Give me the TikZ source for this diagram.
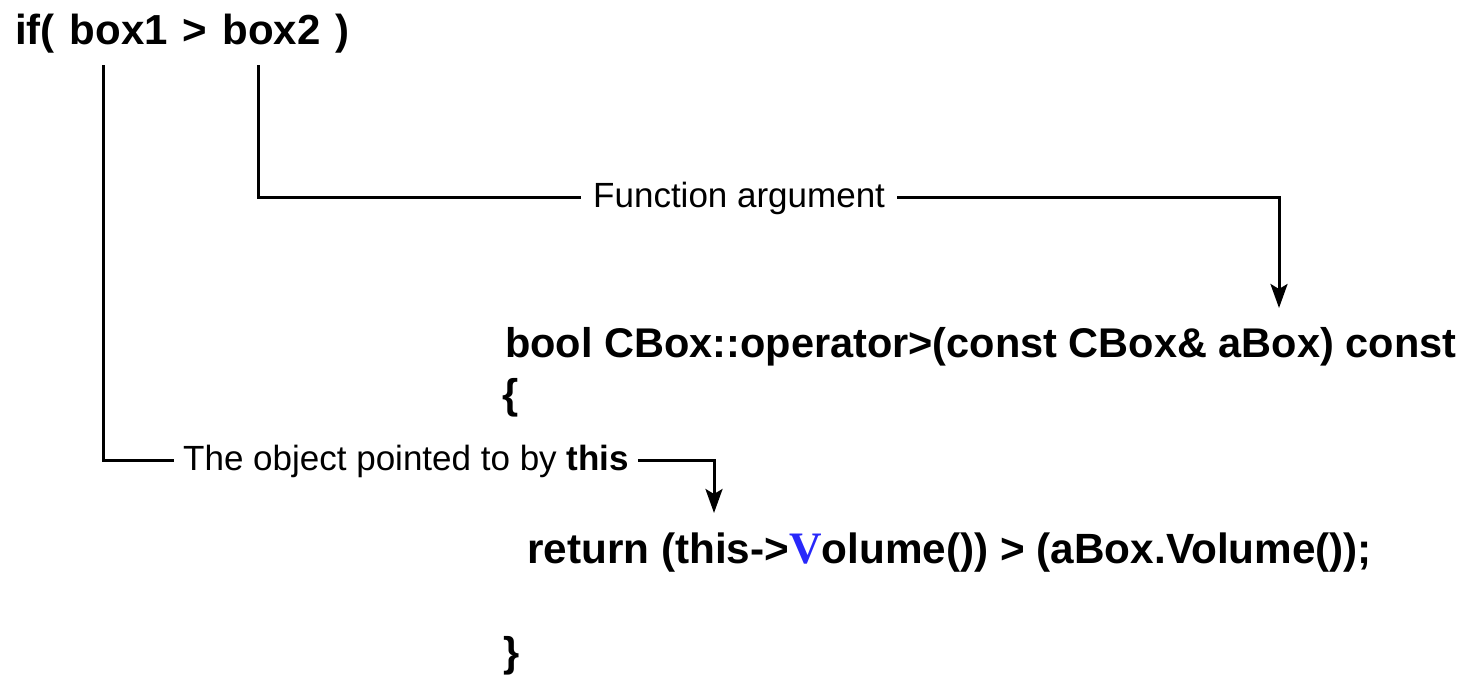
\documentclass[tikz,border=0pt]{standalone}
\usepackage{fontspec}
\setmainfont{Liberation Sans}
\newfontfamily\serifV{Liberation Serif}
\usetikzlibrary{arrows.meta}
\definecolor{vblue}{RGB}{40,40,250}
\newcommand{\gap}{\hspace{15pt}}
\begin{document}
\begin{tikzpicture}[x=1pt,y=-1pt,
  codetext/.style={font=\fontsize{41.5}{50}\selectfont\bfseries, inner sep=0pt, anchor=base west},
  note/.style={font=\fontsize{35}{42}\selectfont, inner ysep=0pt, anchor=base west},
  leader/.style={line width=3pt},
  pointer/.style={leader, -{Stealth[length=24pt,width=17pt,inset=5pt]}}]
\useasboundingbox (0,0) rectangle (1463,677);

% calling expression
\node[codetext, font=\fontsize{42}{50}\selectfont\bfseries] (cond) at (15,45)
  {if(\gap box1\gap>\gap box2\gap)};
\coordinate (objref) at (103,65);
\coordinate (argref) at (258,65);

% operator definition
\node[codetext] (decl) at (505,357) {bool CBox::operator>(const CBox\& aBox) const};
\node[codetext] (open) at (502,408) {\{};
\node[codetext, font=\fontsize{42.3}{50}\selectfont\bfseries] (ret) at (527,563)
  {return (this->{\serifV\color{vblue}\fontsize{45}{50}\selectfont V}olume()) > (aBox.Volume());};
\node[codetext] (close) at (503,666) {\}};

% annotations
\node[note, inner xsep=12pt] (argnote) at (581,207) {Function argument};
\node[note, inner xsep=9pt] (thisnote) at (174,470) {The object pointed to by \textbf{this}};
\coordinate (argtip) at (1279,308);
\coordinate (thistip) at (714,513);

\draw[leader] (argref) |- (argnote.west);
\draw[pointer] (argnote.east) -| (argtip);
\draw[leader] (objref) |- (thisnote.west);
\draw[pointer] (thisnote.east) -| (thistip);
\end{tikzpicture}
\end{document}
